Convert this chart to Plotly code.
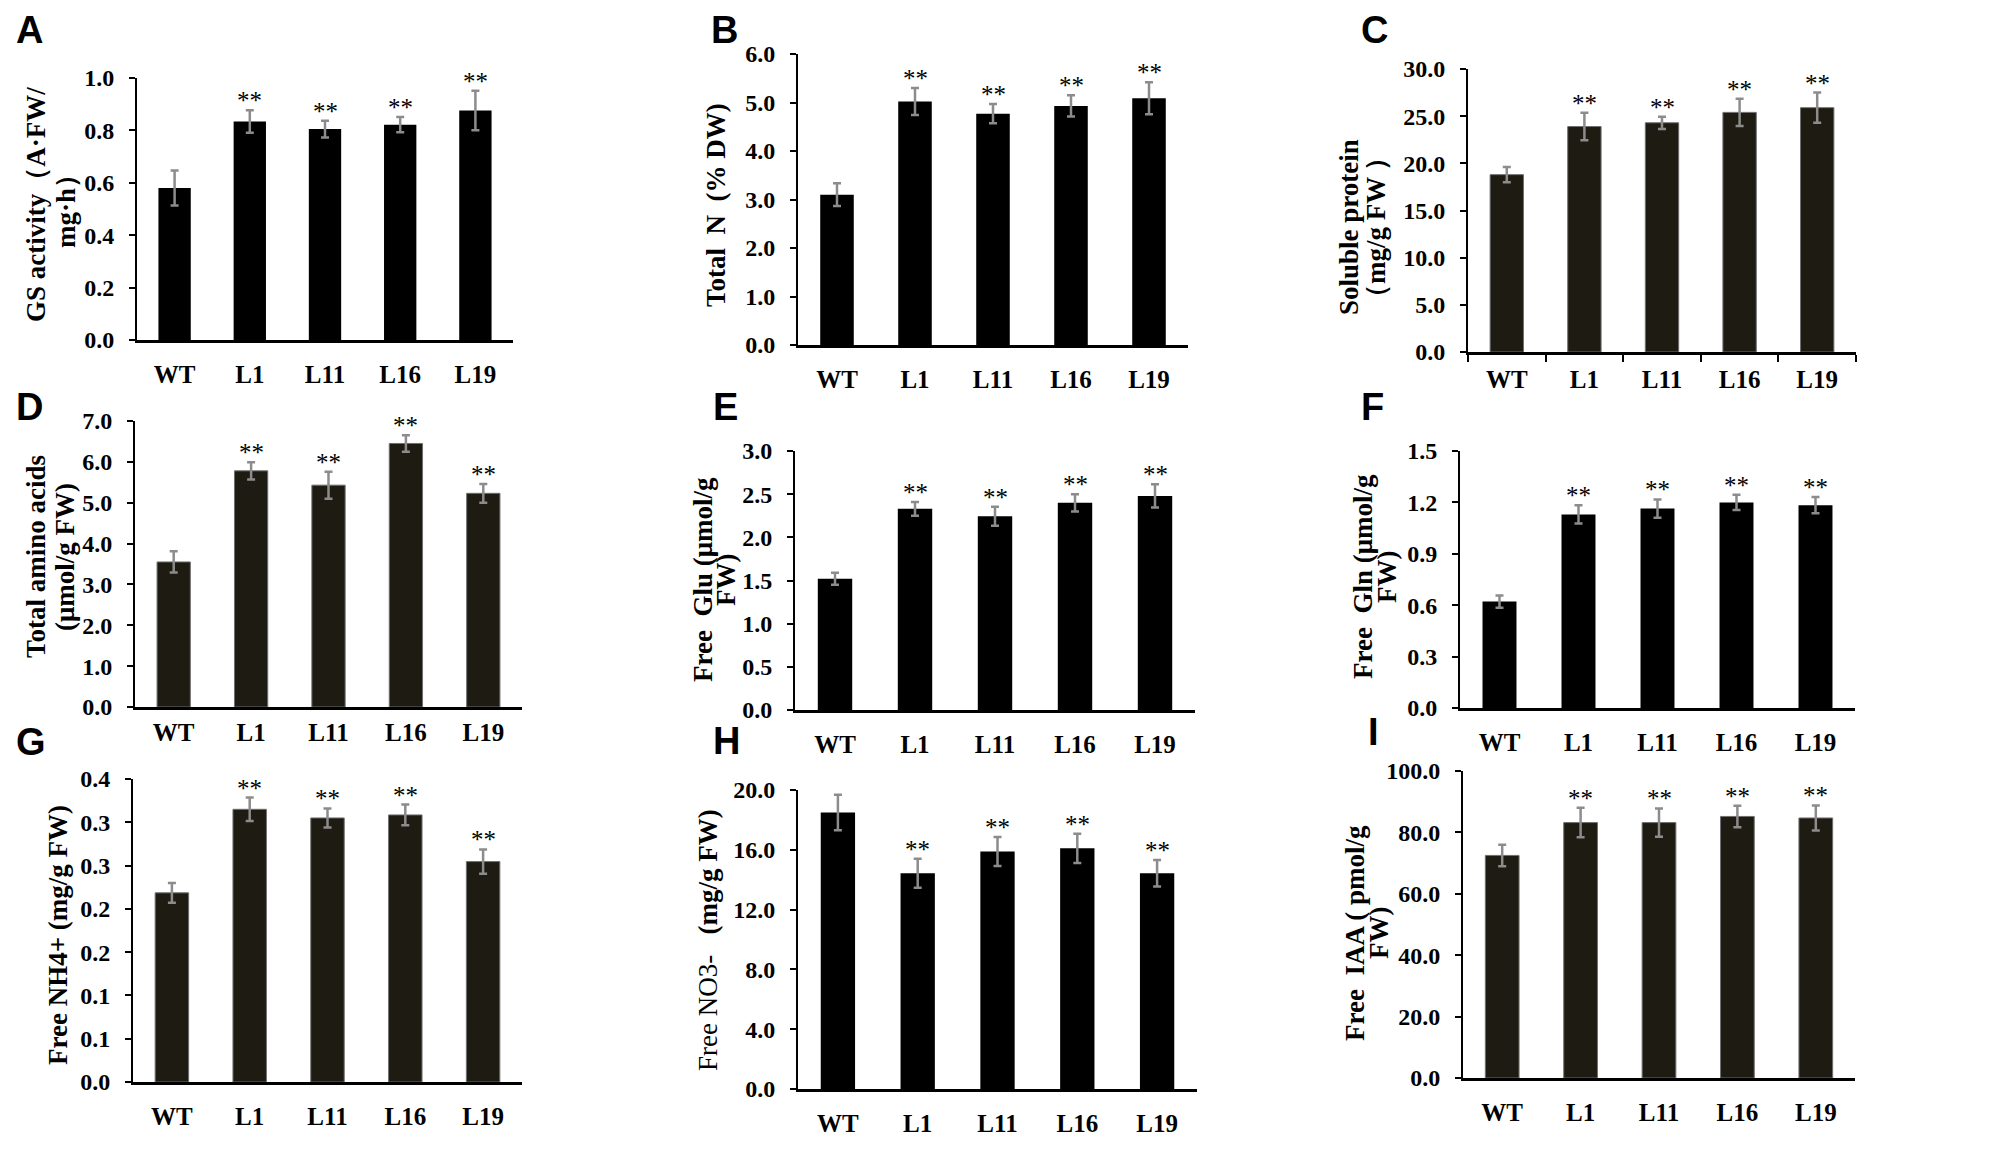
import plotly.graph_objects as go

W, H = 2004, 1158
OFF = 8  # the page body margin shifts the figure by this many px

lines = ['WT', 'L1', 'L11', 'L16', 'L19']
stars = ['', '**', '**', '**', '**']

gs_activity = [0.58, 0.834, 0.805, 0.822, 0.876]
gs_activity_err = [0.067, 0.043, 0.032, 0.029, 0.075]
total_n = [3.10, 5.02, 4.77, 4.93, 5.09]
total_n_err = [0.235, 0.28, 0.20, 0.22, 0.33]
soluble_protein = [18.8, 23.9, 24.3, 25.4, 25.9]
soluble_protein_err = [0.8, 1.45, 0.65, 1.45, 1.6]
amino_acids = [3.55, 5.78, 5.43, 6.45, 5.23]
amino_acids_err = [0.26, 0.21, 0.33, 0.20, 0.23]
free_glu = [1.52, 2.33, 2.245, 2.40, 2.48]
free_glu_err = [0.07, 0.08, 0.11, 0.10, 0.135]
free_gln = [0.621, 1.13, 1.164, 1.20, 1.184]
free_gln_err = [0.036, 0.053, 0.053, 0.044, 0.047]
free_nh4 = [0.2185, 0.315, 0.305, 0.3085, 0.2546]
free_nh4_err = [0.0115, 0.0135, 0.011, 0.012, 0.014]
free_no3 = [18.49, 14.43, 15.88, 16.10, 14.43]
free_no3_err = [1.19, 0.97, 0.97, 0.98, 0.88]
free_iaa = [72.5, 83.2, 83.2, 85.2, 84.7]
free_iaa_err = [3.5, 4.8, 4.6, 3.5, 4.1]

# NH4+ axis: ticks every 0.05 but labels rounded to one decimal, as in the original
nh4_tickvals = [0, 0.05, 0.1, 0.15, 0.2, 0.25, 0.3, 0.35]
nh4_ticktext = ['0.0', '0.1', '0.1', '0.2', '0.2', '0.3', '0.3', '0.4']

BLACK = '#000000'
OLIVE = '#1e1b12'
SERIF = 'Liberation Serif'


def px_x(x):
    return (x - OFF) / W


def px_y(y):
    return min(1, 1 - (y - OFF) / H)


# letter, values, errors, ymax, dtick, y-title lines [(text, x px)], title centre y px,
# bar colour, plot box px (x0, x1, ytop, ybottom), letter (x, y), tick marks, label standoff
panels = [
    ('A', gs_activity, gs_activity_err, 1.0, 0.2,
     [('GS activity（A·FW/', 36), ('mg·h）', 66)], 205, BLACK,
     (137, 513, 78, 340), (15, 10), False, 10),
    ('B', total_n, total_n_err, 6.0, 1.0,
     [('Total  N  (% DW)', 716)], 205, BLACK,
     (798, 1188, 54, 345), (710, 8), False, 10),
    ('C', soluble_protein, soluble_protein_err, 30.0, 5.0,
     [('Soluble protein', 1349), ('（mg/g FW ）', 1376)], 227, OLIVE,
     (1468, 1856, 69, 352), (1360, 10), True, 3),
    ('D', amino_acids, amino_acids_err, 7.0, 1.0,
     [('Total amino acids', 36), ('(μmol/g FW)', 65)], 557, OLIVE,
     (135, 522, 421, 707), (15, 393), False, 1),
    ('E', free_glu, free_glu_err, 3.0, 0.5,
     [('Free  Glu (μmol/g', 703), ('FW)', 726)], 580, BLACK,
     (795, 1195, 451, 710), (712, 393), False, 10),
    ('F', free_gln, free_gln_err, 1.5, 0.3,
     [('Free  Gln (μmol/g', 1363), ('FW)', 1387)], 577, BLACK,
     (1460, 1855, 451, 708), (1360, 393), False, 10),
    ('G', free_nh4, free_nh4_err, 0.35, None,
     [('Free NH4+ (mg/g FW)', 58)], 935, OLIVE,
     (133, 522, 779, 1082), (15, 728), False, 10),
    ('H', free_no3, free_no3_err, 20.0, 4.0,
     [('<span style="font-weight:normal">Free NO3-</span>   (mg/g FW)', 708)], 940, BLACK,
     (798, 1197, 790, 1089), (712, 727), False, 10),
    ('I', free_iaa, free_iaa_err, 100.0, 20.0,
     [('Free  IAA ( pmol/g', 1355), ('FW)', 1379)], 933, OLIVE,
     (1463, 1855, 771, 1078), (1367, 718), False, 10),
]

fig = go.Figure()
annotations = []

for i, (letter, vals, errs, ymax, dtick, tlines, ty, color, box, lpos, bticks, standoff) in enumerate(panels):
    n = '' if i == 0 else str(i + 1)
    x0, x1, yt, yb = box
    edge = dict(width=1, color='#6f6f6f') if color == OLIVE else dict(width=0)
    fig.add_trace(go.Bar(
        x=lines, y=vals,
        marker=dict(color=color, line=edge),
        error_y=dict(type='data', array=errs, color='#8c8c8c', thickness=2.5, width=4),
        xaxis='x' + n, yaxis='y' + n, showlegend=False,
    ))
    xa = dict(
        domain=[px_x(x0), px_x(x1)], anchor='y' + n, type='category', automargin=False,
        range=[-0.5, 4.5], showline=True, linecolor='black', linewidth=2.5,
        showgrid=False, zeroline=False,
        tickfont=dict(family=SERIF, size=25, color='black', weight=700),
        ticks='outside' if bticks else '', ticklen=7, tickwidth=1.5, tickcolor='black',
        ticklabelstandoff=standoff,
    )
    if bticks:
        xa['tickson'] = 'boundaries'
    ya = dict(
        domain=[px_y(yb), px_y(yt)], anchor='x' + n, range=[0, ymax], automargin=False,
        showline=True, linecolor='black', linewidth=2, showgrid=False, zeroline=False,
        ticks='outside', ticklen=6, tickwidth=1.5, tickcolor='black',
        tickfont=dict(family=SERIF, size=24, color='black', weight=700),
        ticklabelstandoff=10,
    )
    if dtick is None:
        ya.update(tickmode='array', tickvals=nh4_tickvals, ticktext=nh4_ticktext)
    else:
        ya.update(tick0=0, dtick=dtick, tickformat='.1f')
    fig.update_layout({'xaxis' + n: xa, 'yaxis' + n: ya})

    for cat, v, e, s in zip(lines, vals, errs, stars):
        if s:
            annotations.append(dict(
                x=cat, y=v + e, xref='x' + n, yref='y' + n, text=s, showarrow=False,
                yanchor='bottom', yshift=-6,
                font=dict(family=SERIF, size=25, color='black'),
            ))

    for text, tx in tlines:
        annotations.append(dict(
            x=px_x(tx), y=px_y(ty), xref='paper', yref='paper', text=text,
            textangle=-90, showarrow=False, xanchor='center', yanchor='middle',
            font=dict(family=SERIF, size=27, color='black', weight=700),
        ))
    annotations.append(dict(
        x=px_x(lpos[0]), y=px_y(lpos[1] - 8), xref='paper', yref='paper', text=letter,
        showarrow=False, xanchor='left', yanchor='top', borderpad=0,
        font=dict(family='Liberation Sans', size=38, color='black', weight=700),
    ))

fig.update_layout(
    width=W, height=H,
    margin=dict(l=0, r=0, t=0, b=0, autoexpand=False),
    paper_bgcolor='white', plot_bgcolor='white',
    bargap=0.57,
    annotations=annotations,
)

fig.write_html('out.html')
